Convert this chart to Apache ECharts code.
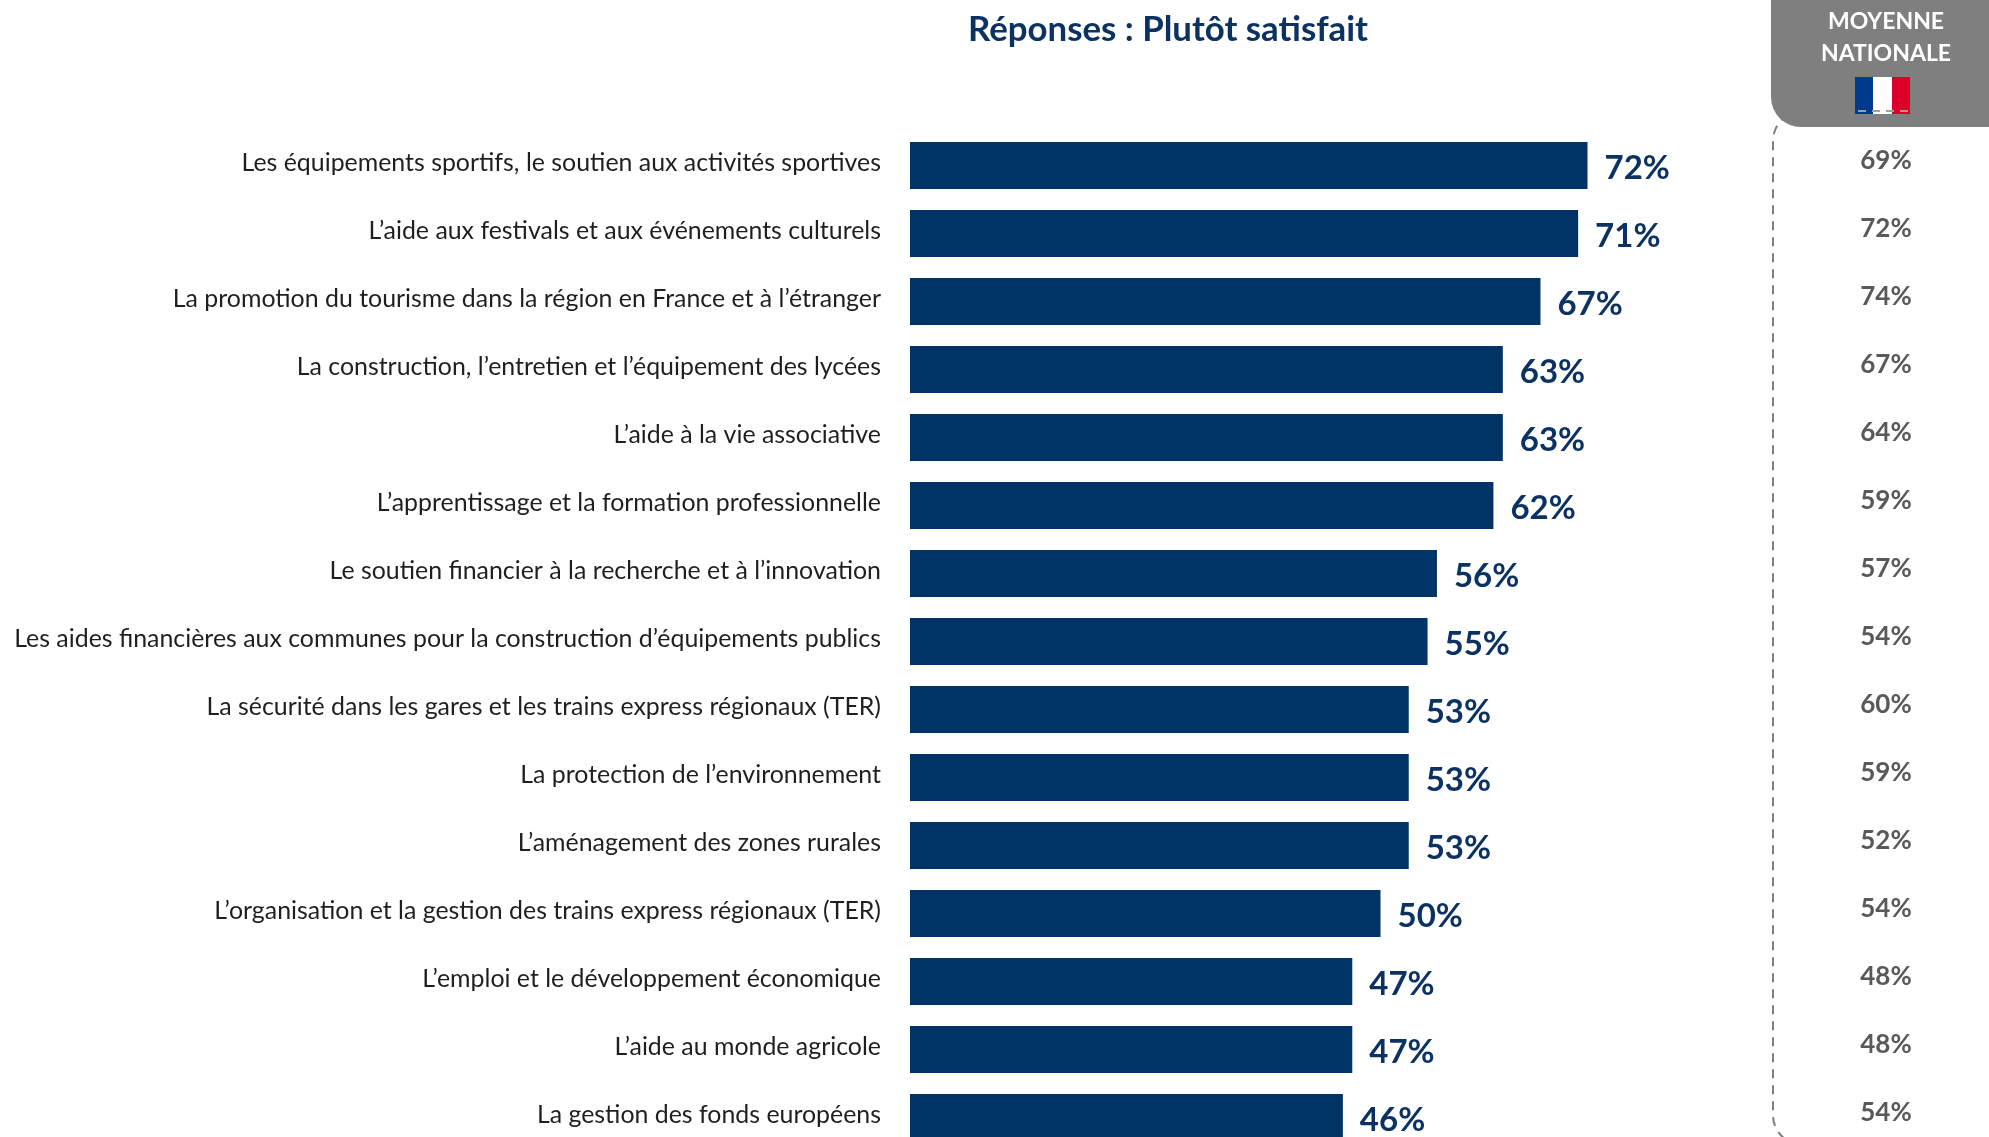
<!DOCTYPE html>
<html><head><meta charset="utf-8">
<style>html,body{margin:0;padding:0;background:#fff;overflow:hidden}#c{width:1989px;height:1137px}</style>
<script src="https://cdn.jsdelivr.net/npm/echarts@6/dist/echarts.min.js"></script>
</head><body><div id="c"></div>
<script>
const categories = [
"Les équipements sportifs, le soutien aux activités sportives",
"L’aide aux festivals et aux événements culturels",
"La promotion du tourisme dans la région en France et à l’étranger",
"La construction, l’entretien et l’équipement des lycées",
"L’aide à la vie associative",
"L’apprentissage et la formation professionnelle",
"Le soutien financier à la recherche et à l’innovation",
"Les aides financières aux communes pour la construction d’équipements publics",
"La sécurité dans les gares et les trains express régionaux (TER)",
"La protection de l’environnement",
"L’aménagement des zones rurales",
"L’organisation et la gestion des trains express régionaux (TER)",
"L’emploi et le développement économique",
"L’aide au monde agricole",
"La gestion des fonds européens"];
const satisfied = [72,71,67,63,63,62,56,55,53,53,53,50,47,47,46];
const national = [69,72,74,67,64,59,57,54,60,59,52,54,48,48,54];
const titleText = "Réponses : Plutôt satisfait";
const headerLines = ["MOYENNE","NATIONALE"];
const FONT = "Lato";
const chart = echarts.init(document.getElementById('c'),null,{renderer:'canvas'});
chart.setOption({
  animation:false,
  backgroundColor:'#fff',
  title:{text:titleText,left:1163,top:7,textAlign:'center',textStyle:{fontFamily:FONT,fontWeight:'bold',fontSize:34.8,color:'#0b3263'}},
  grid:{left:910,top:131.5,width:941,height:1020,outerBoundsMode:'none'},
  xAxis:{type:'value',min:0,max:100,show:false},
  yAxis:[
   {type:'category',inverse:true,data:categories,axisLine:{show:false},axisTick:{show:false},
    axisLabel:{margin:29,fontFamily:FONT,fontSize:24.9,color:'#1f1f1f',verticalAlign:'bottom',lineHeight:6,interval:0}},
   {type:'category',inverse:true,position:'right',data:national.map(v=>v+'%'),axisLine:{show:false},axisTick:{show:false},
    axisLabel:{margin:35,align:'center',fontFamily:FONT,fontWeight:'bold',fontSize:26,color:'#595959',verticalAlign:'bottom',lineHeight:10,interval:0}}
  ],
  series:[{type:'bar',data:satisfied,barWidth:47,itemStyle:{color:'#003366'},
    label:{show:true,position:'right',distance:17,formatter:p=>p.value+'%',fontFamily:FONT,fontWeight:'bold',fontSize:33,color:'#0b3263',offset:[0,3]},silent:true}],
  graphic:[
   {type:'rect',z:1,shape:{x:1773,y:111,width:300,height:1034,r:30},style:{fill:'none',stroke:'#7f7f7f',lineWidth:2,lineDash:[9,7]}},
   {type:'rect',z:2,shape:{x:1771,y:-40,width:300,height:167,r:30},style:{fill:'#7f7f7f'}},
   {type:'text',z:3,style:{x:1886,y:22,text:headerLines[0],align:'center',verticalAlign:'middle',fontFamily:FONT,fontWeight:'bold',fontSize:23,fill:'#fff'}},
   {type:'text',z:3,style:{x:1886,y:54,text:headerLines[1],align:'center',verticalAlign:'middle',fontFamily:FONT,fontWeight:'bold',fontSize:23,fill:'#fff'}},
   {type:'rect',z:3,shape:{x:1855,y:77,width:19,height:37},style:{fill:'#003a8f'}},
   {type:'rect',z:3,shape:{x:1873,y:77,width:19,height:37},style:{fill:'#ffffff'}},
   {type:'rect',z:3,shape:{x:1892,y:77,width:18,height:37},style:{fill:'#dc0028'}},
   {type:'line',z:4,shape:{x1:1858,y1:111,x2:1910,y2:111},style:{stroke:'#a0a0a0',lineWidth:2,lineDash:[8,6]}}
  ]
});
</script></body></html>
